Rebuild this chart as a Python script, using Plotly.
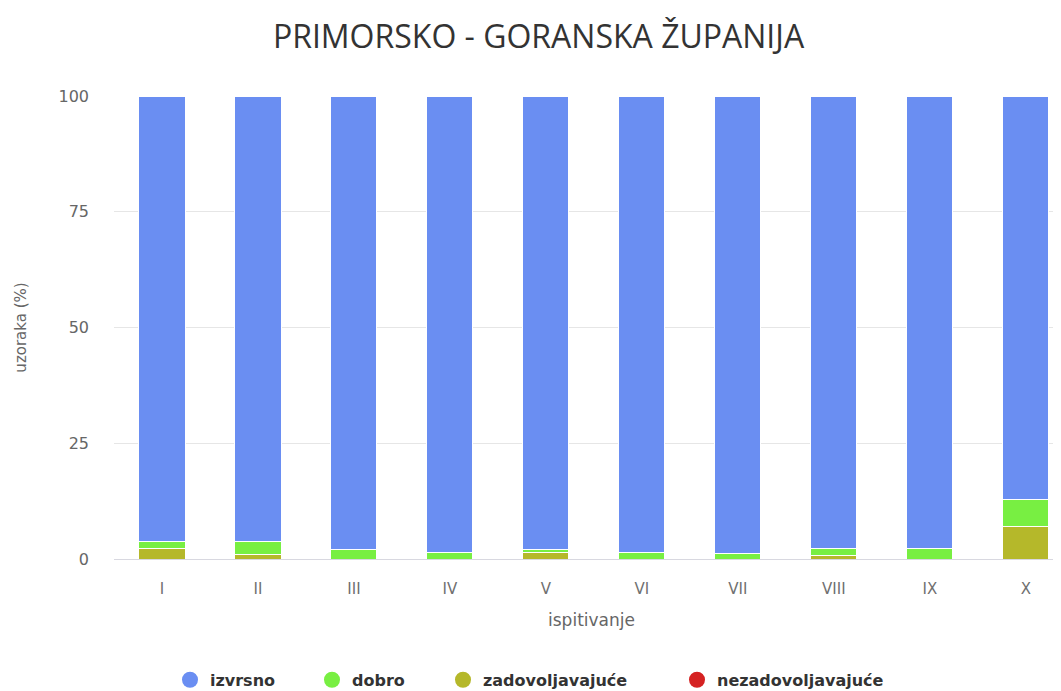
import plotly.graph_objects as go

categories = ["I", "II", "III", "IV", "V", "VI", "VII", "VIII", "IX", "X"]
zadovoljavajuce = [2.3, 1.0, 0.0, 0.0, 1.3, 0.0, 0.0, 0.8, 0.0, 7.0]
dobro = [1.5, 2.8, 2.1, 1.4, 0.7, 1.5, 1.1, 1.5, 2.3, 5.8]
nezadovoljavajuce = [0, 0, 0, 0, 0, 0, 0, 0, 0, 0]
izvrsno = [round(100 - a - b - c, 1) for a, b, c in zip(zadovoljavajuce, dobro, nezadovoljavajuce)]

series = [
    ("nezadovoljavajuće", nezadovoljavajuce, "#d52222"),
    ("zadovoljavajuće", zadovoljavajuce, "#b5b82a"),
    ("dobro", dobro, "#78ef42"),
    ("izvrsno", izvrsno, "#6a8ef2"),
]
legend_order = ["izvrsno", "dobro", "zadovoljavajuće", "nezadovoljavajuće"]
legend_pos = [190, 332, 463, 697]  # legend symbol centre, screen px

FONT = "DejaVu Sans, Verdana, sans-serif"
PLOT_LEFT = 114
PLOT_W = 955

fig = go.Figure()
for name, vals, col in series:
    fig.add_trace(go.Bar(
        x=categories, y=vals, name=name, marker=dict(color=col, line=dict(color="white", width=1)),
        width=0.48, showlegend=False,
    ))
colors = {n: c for n, _, c in series}
legends = {}
for i, (name, px) in enumerate(zip(legend_order, legend_pos)):
    key = "legend" if i == 0 else f"legend{i + 1}"
    fig.add_trace(go.Scatter(
        x=[None], y=[None], mode="markers", name=name, legend=key,
        marker=dict(color=colors[name], size=17, symbol="circle"),
    ))
    legends[key] = dict(
        orientation="h", x=(px - 20 - PLOT_LEFT) / PLOT_W, xanchor="left", y=-0.261, yanchor="middle",
        font=dict(size=16, color="#333333", family=FONT, weight="bold"), bgcolor="rgba(0,0,0,0)",
    )

fig.update_layout(
    barmode="stack",
    width=1061, height=691,
    paper_bgcolor="white", plot_bgcolor="white",
    margin=dict(l=106, r=0, t=88, b=140, autoexpand=False),
    font=dict(family=FONT, color="#666666", size=13),
    title=dict(text="PRIMORSKO - GORANSKA ŽUPANIJA", x=0.5, xanchor="center", y=0.958, yanchor="middle",
               xref="container", font=dict(size=32, color="#333333", family="Open Sans, sans-serif")),
    xaxis=dict(
        range=[-0.5, 9.45], showgrid=False, showline=True, linecolor="#d8d8e0",
        tickfont=dict(size=15, color="#707070"), ticklabelstandoff=16,
        title=dict(text="ispitivanje", font=dict(size=17, color="#666666"), standoff=17),
        fixedrange=True,
    ),
    yaxis=dict(
        range=[0, 100], tickvals=[0, 25, 50, 75, 100], showgrid=True, gridcolor="#e6e6e6",
        zeroline=False, tickfont=dict(size=16, color="#666666"), ticks="", ticklabelstandoff=24,
        title=dict(text="uzoraka (%)", font=dict(size=15, color="#666666"), standoff=28),
    ),
    **legends,
)

fig.write_html("out.html")
